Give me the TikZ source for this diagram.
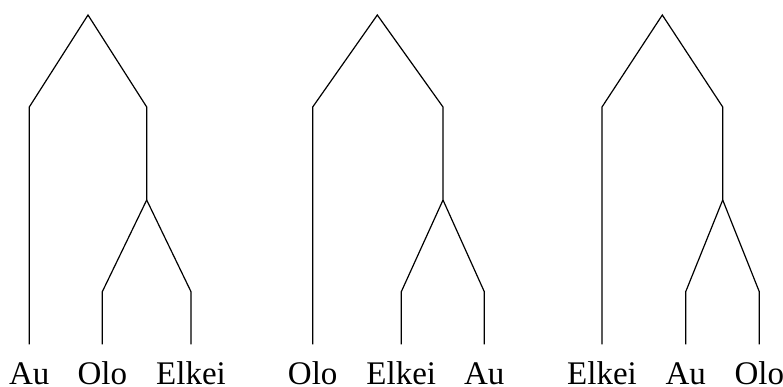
\documentclass[tikz,border=0pt]{standalone}
\usepackage{fontspec}
\setmainfont{Liberation Serif}
\begin{document}
\begin{tikzpicture}[x=1pt,y=-1pt,line width=1.2pt,
    leaf/.style={anchor=base,inner sep=0pt,font=\fontsize{33}{38}\selectfont}]
      \useasboundingbox (0,0) rectangle (783,387);
      % tree 1
      \coordinate (r1) at (88,15);
      \coordinate (l1) at (29.3,107);
      \coordinate (m1) at (146.7,107);
      \coordinate (k1) at (146.7,200);
      \coordinate (p1) at (102.3,291.7);
      \coordinate (q1) at (191,291.7);
      \node[leaf] (au1) at (29.3,384.5) {Au};
      \node[leaf] (olo1) at (102.3,384.5) {Olo};
      \node[leaf] (elkei1) at (191,384.5) {Elkei};
      \draw (29.3,344.3) -- (l1) -- (r1) -- (m1) -- (k1) -- (p1) -- (102.3,344.3);
      \draw (k1) -- (q1) -- (191,344.3);
      % tree 2
      \coordinate (r2) at (377.3,15);
      \coordinate (l2) at (312.7,107);
      \coordinate (m2) at (443,107);
      \coordinate (k2) at (443,200);
      \coordinate (p2) at (401.3,291.7);
      \coordinate (q2) at (484.3,291.7);
      \node[leaf] (olo2) at (312.7,384.5) {Olo};
      \node[leaf] (elkei2) at (401.3,384.5) {Elkei};
      \node[leaf] (au2) at (484.3,384.5) {Au};
      \draw (312.7,344.3) -- (l2) -- (r2) -- (m2) -- (k2) -- (p2) -- (401.3,344.3);
      \draw (k2) -- (q2) -- (484.3,344.3);
      % tree 3
      \coordinate (r3) at (662.3,15);
      \coordinate (l3) at (602,107);
      \coordinate (m3) at (722.7,107);
      \coordinate (k3) at (722.7,200);
      \coordinate (p3) at (685.7,291.7);
      \coordinate (q3) at (759.3,291.7);
      \node[leaf] (elkei3) at (602,384.5) {Elkei};
      \node[leaf] (au3) at (685.7,384.5) {Au};
      \node[leaf] (olo3) at (759.3,384.5) {Olo};
      \draw (602,344.3) -- (l3) -- (r3) -- (m3) -- (k3) -- (p3) -- (685.7,344.3);
      \draw (k3) -- (q3) -- (759.3,344.3);
    \end{tikzpicture}
\end{document}
